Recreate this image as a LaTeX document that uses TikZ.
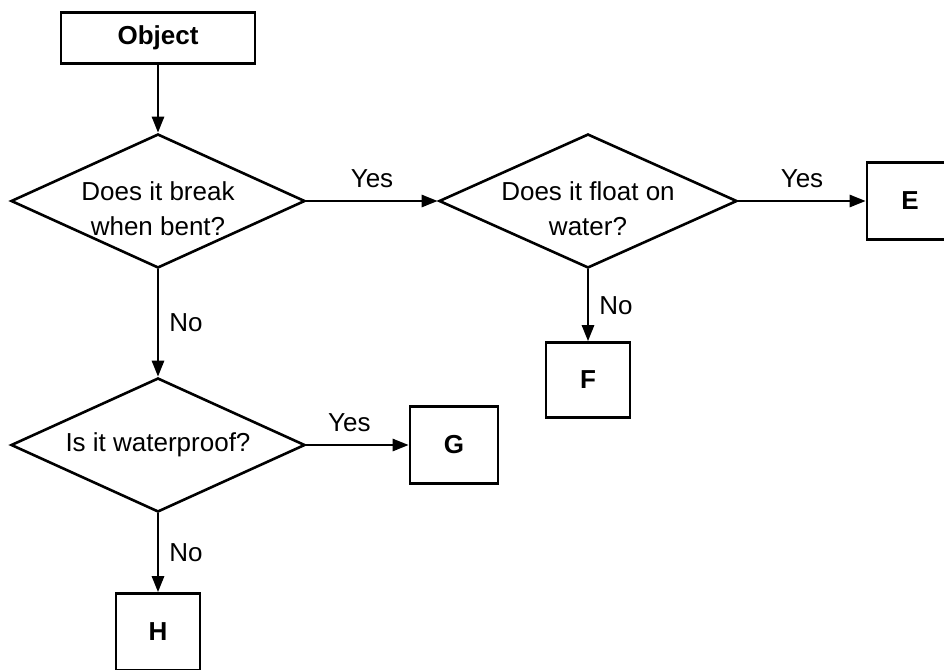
\documentclass[tikz,border=0pt]{standalone}
\usepackage{fontspec}
\setmainfont{Liberation Sans}
\usepackage{tikz}
\usetikzlibrary{arrows.meta,shapes.geometric}
\tikzstyle{fl} = [-{Triangle[length=16pt,width=12pt]}]
\tikzstyle{dec} = [draw,diamond,aspect=2.2,inner sep=-6pt,minimum width=294pt,minimum height=134pt,align=center]
\tikzstyle{res} = [draw,minimum width=86pt,minimum height=77pt,font=\fontsize{26pt}{35pt}\selectfont\bfseries]

\begin{document}
\begin{tikzpicture}[yscale=-1,x=1pt,y=1pt,line width=2.6pt,every node/.style={font=\fontsize{26pt}{35pt}\selectfont}]
	\path[use as bounding box,fill=white] (0,0) rectangle (944,669);
	\node[res,minimum width=194pt,minimum height=51pt] (obj) at (158,38) {Object};
	\node[dec,text height=70pt] (brk) at (158,201) {Does it break\\when bent?};
	\node[dec,text height=70pt,minimum width=298pt] (flt) at (588,201) {Does it float on\\water?};
	\node[dec] (wtr) at (158,445) {Is it waterproof?};
	\node[res] (e) at (910,201) {E};
	\node[res,minimum width=84pt,minimum height=75pt] (f) at (588,380) {F};
	\node[res,minimum width=88pt] (g) at (454,445) {G};
	\node[res,minimum width=84pt] (h) at (158,632) {H};
	\draw[fl] (obj) -- (brk);
	\draw[fl] (brk.east) -- node[above,inner ysep=12pt]{Yes} (flt.west);
	\draw[fl] (flt.east) -- node[above,inner ysep=12pt]{Yes} (e.west);
	\draw[fl] (brk.south) -- node[right,inner xsep=10pt]{No} (wtr.north);
	\draw[fl] (flt.south) -- node[right,inner xsep=10pt]{No} (f.north);
	\draw[fl] (wtr.east) -- node[pos=0.42,above,inner ysep=12pt]{Yes} (g.west);
	\draw[fl] (wtr.south) -- node[right,inner xsep=10pt]{No} (h.north);
\end{tikzpicture}
\end{document}
